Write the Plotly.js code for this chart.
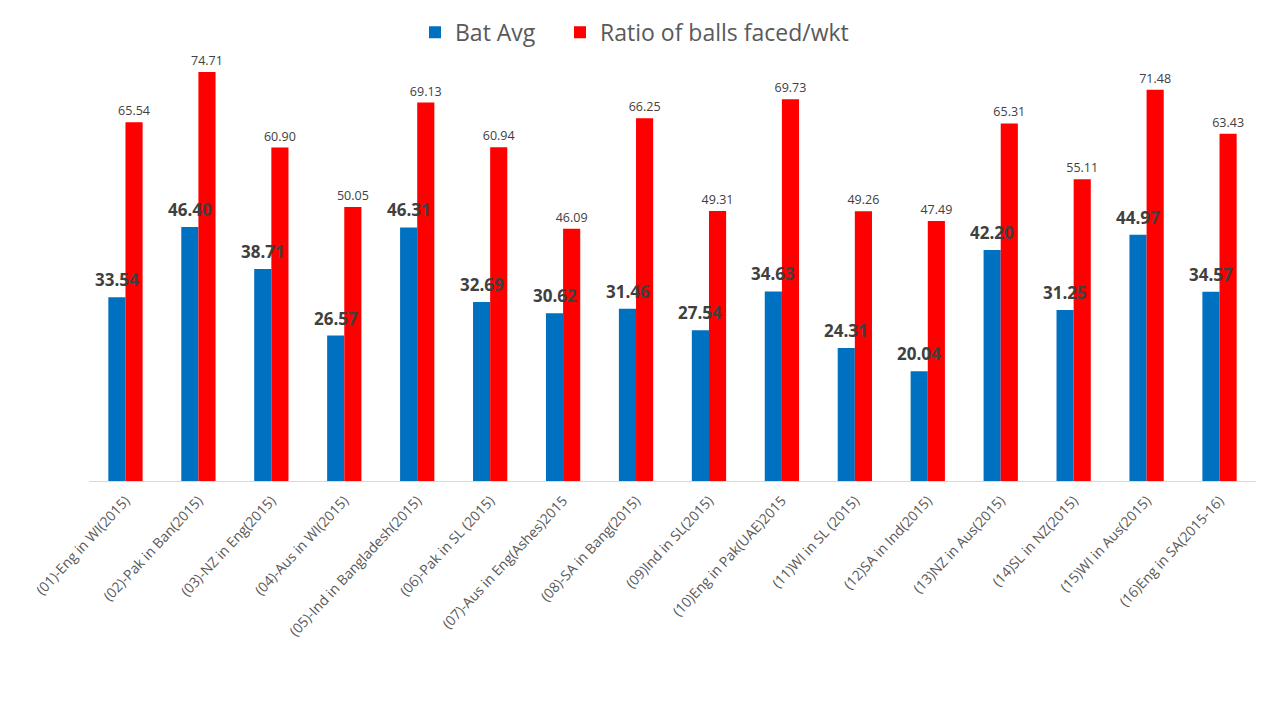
<!DOCTYPE html>
<html>
<head>
<meta charset="utf-8">
<script src="https://cdn.plot.ly/plotly-3.0.1.min.js"></script>
<style>html,body{margin:0;padding:0;background:#fff;}#chart{width:1280px;height:720px;}</style>
</head>
<body>
<div id="chart"></div>
<script>
const categories = ["(01)-Eng in WI(2015)", "(02)-Pak in Ban(2015)", "(03)-NZ in Eng(2015)", "(04)-Aus in WI(2015)", "(05)-Ind in Bangladesh(2015)", "(06)-Pak in SL (2015)", "(07)-Aus in Eng(Ashes)2015", "(08)-SA in Bang(2015)", "(09)Ind in SL(2015)", "(10)Eng in Pak(UAE)2015", "(11)WI in SL (2015)", "(12)SA in Ind(2015)", "(13)NZ in Aus(2015)", "(14)SL in NZ(2015)", "(15)WI in Aus(2015)", "(16)Eng in SA(2015-16)"];
const batAvg = [33.54, 46.40, 38.71, 26.57, 46.31, 32.69, 30.62, 31.46, 27.54, 34.63, 24.31, 20.04, 42.20, 31.25, 44.97, 34.57];
const ballsPerWkt = [65.54, 74.71, 60.90, 50.05, 69.13, 60.94, 46.09, 66.25, 49.31, 69.73, 49.26, 47.49, 65.31, 55.11, 71.48, 63.43];

const FONT = "Open Sans, Noto Sans, sans-serif";
const traces = [
  {
    type: 'bar', name: 'Bat Avg', x: categories, y: batAvg,
    marker: {color: '#0070C0'}, hoverinfo: 'x+y', legend: 'legend'
  },
  {
    type: 'bar', name: 'Ratio of balls faced/wkt', x: categories, y: ballsPerWkt,
    marker: {color: '#FF0000'},
    texttemplate: '%{y:.2f}', textposition: 'outside', constraintext: 'none',
    textfont: {family: FONT, size: 12.5, color: '#404040'},
    cliponaxis: false, hoverinfo: 'x+y', legend: 'legend2'
  }
];
// Bat Avg labels drawn on top of all bars (as in the reference)
const batLabels = categories.map((c, i) => ({
  x: c, y: batAvg[i], xref: 'x', yref: 'y',
  text: '<b>' + batAvg[i].toFixed(2) + '</b>',
  showarrow: false, yanchor: 'bottom', xanchor: 'center',
  xshift: -8.5, yshift: 4,
  font: {family: FONT, size: 17, color: '#404040'}
}));
const legendBase = {orientation: 'h', xanchor: 'left', y: 0.985, yanchor: 'top',
                    xref: 'container', yref: 'container',
                    font: {family: FONT, size: 23, color: '#595959'}};
const layout = {
  width: 1280, height: 720,
  margin: {l: 89, r: 24, t: 43, b: 239, autoexpand: false},
  paper_bgcolor: '#fff', plot_bgcolor: '#fff',
  barmode: 'group', bargap: 0.53, bargroupgap: 0,
  font: {family: FONT, color: '#595959'},
  showlegend: true,
  legend: Object.assign({}, legendBase, {x: 415 / 1280}),
  legend2: Object.assign({}, legendBase, {x: 560 / 1280}),
  annotations: batLabels,
  xaxis: {
    type: 'category', tickangle: -47, showgrid: false, zeroline: false,
    showline: true, linecolor: '#d9d9d9', linewidth: 1, ticks: '',
    ticklabelstandoff: 5,
    tickfont: {family: FONT, size: 14, color: '#595959'}
  },
  yaxis: {range: [0, 80], visible: false, showgrid: false, zeroline: false}
};
Plotly.newPlot('chart', traces, layout, {displayModeBar: false, staticPlot: true});
</script>
</body>
</html>
